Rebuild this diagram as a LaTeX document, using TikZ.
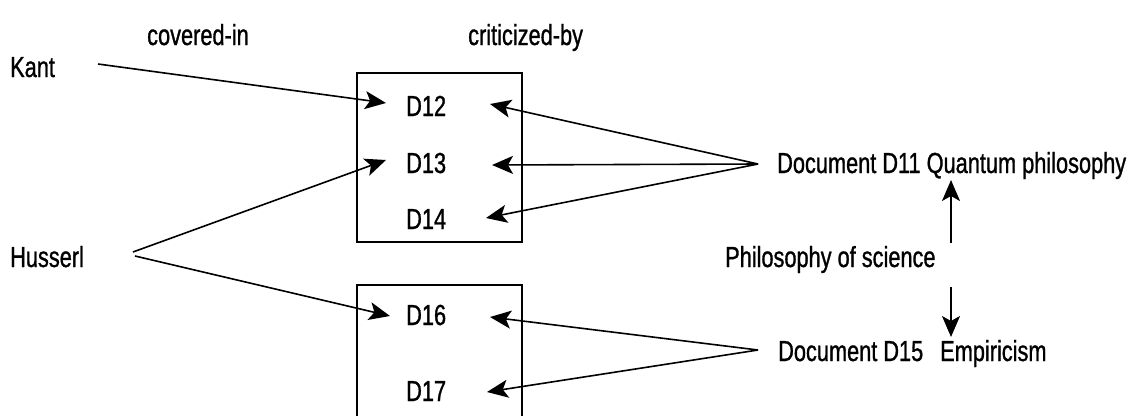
\documentclass[tikz,border=0pt]{standalone}
\usepackage{fontspec}
\setmainfont{Liberation Sans}[FakeStretch=0.75,FakeBold=1]
\usetikzlibrary{arrows.meta}
\begin{document}
\begin{tikzpicture}[x=1bp,y=-1bp,
  lbl/.style={anchor=base west,inner sep=0pt,font=\fontsize{29bp}{33bp}\selectfont},
  conn/.style={line width=1.6bp,-{Stealth[length=21bp,width=18bp,inset=5bp]}},
  boxline/.style={line width=1.6bp}]
\useasboundingbox (0,0) rectangle (1132,415);
% labels
\node[lbl] (covered) at (147,45) {covered-in};
\node[lbl] (crit) at (468,45) {criticized-by};
\node[lbl] (kant) at (10,77) {Kant};
\node[lbl] (husserl) at (10,267) {Husserl};
\node[lbl] (d12) at (406,116) {D12};
\node[lbl] (d13) at (406,173) {D13};
\node[lbl] (d14) at (406,229) {D14};
\node[lbl] (d16) at (406,325) {D16};
\node[lbl] (d17) at (406,401) {D17};
\node[lbl] (d11) at (777,173) {Document D11 Quantum philosophy};
\node[lbl] (phil) at (725,267) {Philosophy of science};
\node[lbl] (d15) at (778,361) {Document D15};
\node[lbl] (emp) at (940,361) {Empiricism};
% boxes
\draw[boxline] (357,73) rectangle (522,242);
\draw[boxline] (357,420) -- (357,285) -- (522,285) -- (522,420);
% connector ends
\coordinate (kantend) at (98,64);
\coordinate (husA) at (133,252);
\coordinate (husB) at (135,256);
\coordinate (c11) at (758,164);
\coordinate (c15) at (758,350);
\coordinate (philtop) at (951,243);
\coordinate (philbot) at (951,287);
\coordinate (t12l) at (386,103);
\coordinate (t13l) at (386,160);
\coordinate (t16l) at (390,316);
\coordinate (t12r) at (490,104);
\coordinate (t13r) at (492,165);
\coordinate (t14r) at (486,218);
\coordinate (t16r) at (490,317);
\coordinate (t17r) at (487,392);
\coordinate (tq) at (951,180);
\coordinate (te) at (951,337);
% connectors
\draw[conn] (kantend) -- (t12l);
\draw[conn] (husA) -- (t13l);
\draw[conn] (husB) -- (t16l);
\draw[conn] (c11) -- (t12r);
\draw[conn] (c11) -- (t13r);
\draw[conn] (c11) -- (t14r);
\draw[conn] (c15) -- (t16r);
\draw[conn] (c15) -- (t17r);
\draw[conn] (philtop) -- (tq);
\draw[conn] (philbot) -- (te);
\end{tikzpicture}
\end{document}
